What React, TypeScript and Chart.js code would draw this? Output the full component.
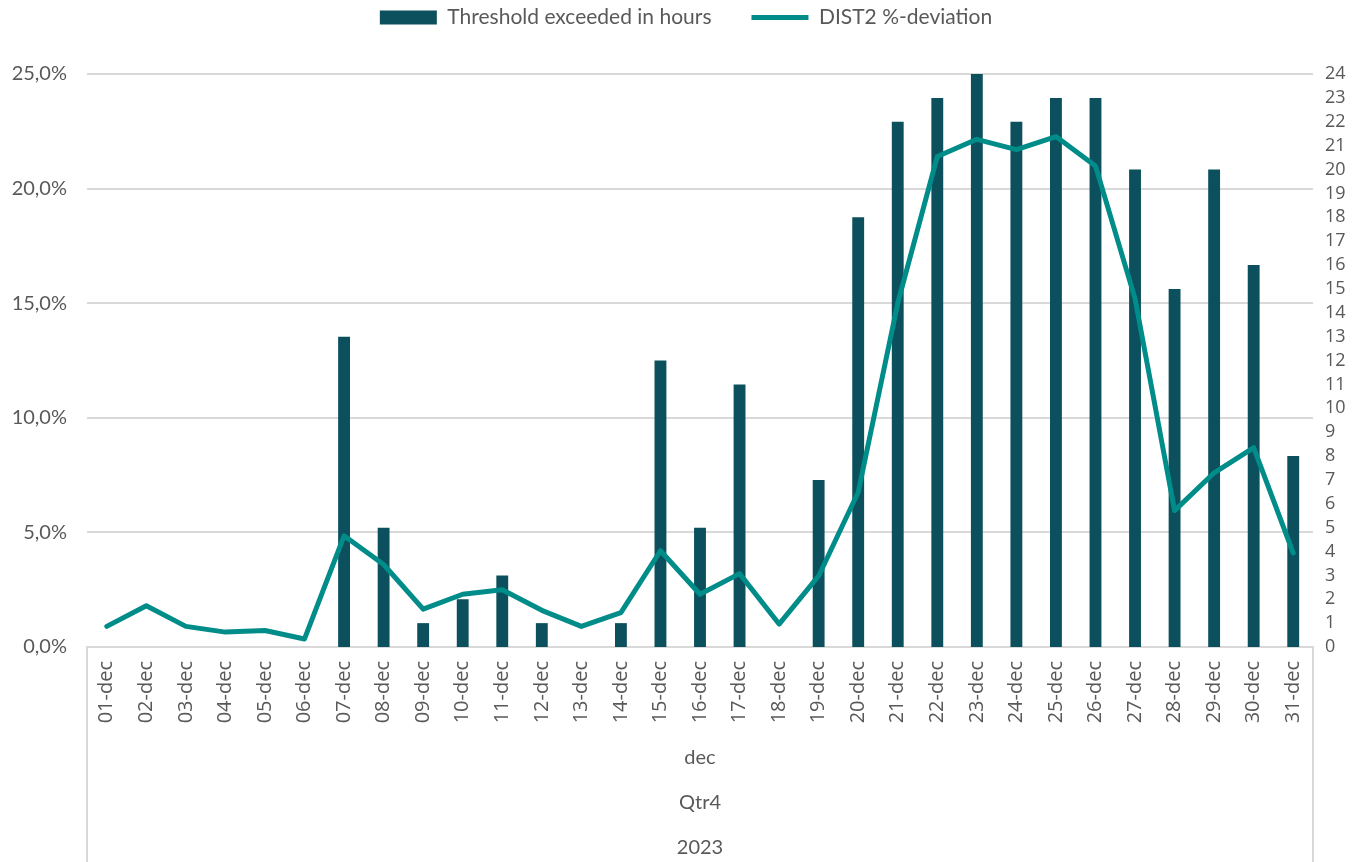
import React, { useEffect, useRef } from "react";
import { Chart, registerables } from "chart.js";

Chart.register(...registerables);

const categories = [
  "01-dec", "02-dec", "03-dec", "04-dec", "05-dec", "06-dec", "07-dec", "08-dec",
  "09-dec", "10-dec", "11-dec", "12-dec", "13-dec", "14-dec", "15-dec", "16-dec",
  "17-dec", "18-dec", "19-dec", "20-dec", "21-dec", "22-dec", "23-dec", "24-dec",
  "25-dec", "26-dec", "27-dec", "28-dec", "29-dec", "30-dec", "31-dec",
];

const thresholdHours = [
  0, 0, 0, 0, 0, 0, 13, 5, 1, 2, 3, 1, 0, 1, 12, 5,
  11, 0, 7, 18, 22, 23, 24, 22, 23, 23, 20, 15, 20, 16, 8,
];

const dist2Deviation = [
  0.9, 1.8, 0.9, 0.65, 0.72, 0.35, 4.85, 3.6, 1.65, 2.3, 2.5, 1.6, 0.9, 1.5, 4.2, 2.3,
  3.2, 1.0, 3.1, 6.75, 15.0, 21.4, 22.15, 21.7, 22.27, 20.99, 15.2, 5.95, 7.6, 8.7, 4.1,
];

const groupLabels = ["dec", "Qtr4", "2023"];

const BAR_COLOR = "#0B505C";
const LINE_COLOR = "#008C88";
const TEXT_COLOR = "#595959";
const GRID_COLOR = "#D9D9D9";

const LEGEND_SHIFT = 33;

const multiLevelPlugin = {
  id: "multiLevel",
  afterDraw(chart: any) {
    const { ctx, chartArea } = chart;
    const bottom = chart.height;
    ctx.save();
    ctx.strokeStyle = GRID_COLOR;
    ctx.lineWidth = 2;
    ctx.beginPath();
    ctx.moveTo(chartArea.left, chartArea.bottom);
    ctx.lineTo(chartArea.left, bottom);
    ctx.moveTo(chartArea.right, chartArea.bottom);
    ctx.lineTo(chartArea.right, bottom);
    ctx.stroke();
    ctx.fillStyle = TEXT_COLOR;
    ctx.font = "20px Lato";
    ctx.textAlign = "center";
    ctx.textBaseline = "middle";
    const cx = (chartArea.left + chartArea.right) / 2;
    groupLabels.forEach((t, i) => {
      ctx.fillText(t, cx, chartArea.bottom + 111 + i * 45);
    });
    ctx.restore();
  },
};

const legendHeightPlugin = {
  id: "legendHeight",
  beforeInit(chart: any) {
    const legend = chart.legend;
    if (!legend) return;
    const origFit = legend.fit;
    legend.fit = function () {
      origFit.call(this);
      this.height = 74 + LEGEND_SHIFT;
    };
  },
};

export default function App() {
  const canvasRef = useRef<HTMLCanvasElement | null>(null);

  useEffect(() => {
    document.body.style.margin = "0";
    const canvas = canvasRef.current;
    if (!canvas) return;
    const chart = new Chart(canvas, {
      type: "bar",
      data: {
        labels: categories,
        datasets: [
          {
            type: "bar",
            label: "Threshold exceeded in hours",
            data: thresholdHours,
            backgroundColor: BAR_COLOR,
            borderWidth: 0,
            yAxisID: "yRight",
            barPercentage: 0.3,
            categoryPercentage: 1,
            pointStyle: "rect",
            order: 2,
          } as any,
          {
            type: "line",
            label: "DIST2 %-deviation",
            data: dist2Deviation,
            borderColor: LINE_COLOR,
            backgroundColor: LINE_COLOR,
            borderWidth: 5,
            borderCapStyle: "round",
            borderJoinStyle: "round",
            pointRadius: 0,
            pointStyle: "line",
            tension: 0,
            yAxisID: "yLeft",
            order: 1,
          } as any,
        ],
      },
      options: {
        responsive: false,
        animation: false,
        layout: { padding: { top: -LEGEND_SHIFT, left: 0, right: 0, bottom: 0 } },
        plugins: {
          tooltip: { enabled: false },
          legend: {
            position: "top",
            labels: {
              usePointStyle: true,
              pointStyleWidth: 57,
              boxWidth: 57,
              boxHeight: 14,
              padding: 40,
              color: TEXT_COLOR,
              font: { family: "Lato", size: 21 },
              sort: (a: any, b: any) => a.datasetIndex - b.datasetIndex,
            },
          },
        },
        scales: {
          x: {
            type: "category",
            grid: { display: false, drawTicks: false },
            border: { display: true, color: GRID_COLOR, width: 2 },
            ticks: {
              autoSkip: false,
              maxRotation: 90,
              minRotation: 90,
              padding: 14,
              color: TEXT_COLOR,
              font: { family: "Open Sans", size: 20 },
            },
            afterFit(scale: any) {
              scale.height = 215;
            },
          },
          yLeft: {
            type: "linear",
            position: "left",
            min: 0,
            max: 25,
            ticks: {
              stepSize: 5,
              padding: 20,
              color: TEXT_COLOR,
              font: { family: "Lato", size: 20 },
              callback: (v: any) => Number(v).toFixed(1).replace(".", ",") + "%",
            },
            grid: { color: GRID_COLOR, lineWidth: 2, drawTicks: false },
            border: { display: false },
            afterFit(scale: any) {
              scale.width = 87;
            },
          },
          yRight: {
            type: "linear",
            position: "right",
            min: 0,
            max: 24,
            ticks: {
              stepSize: 1,
              padding: 12,
              autoSkip: false,
              color: TEXT_COLOR,
              font: { family: "Open Sans", size: 18 },
            },
            grid: { display: false, drawTicks: false },
            border: { display: false },
            afterFit(scale: any) {
              scale.width = 59;
            },
          },
        },
      },
      plugins: [legendHeightPlugin, multiLevelPlugin],
    });
    return () => chart.destroy();
  }, []);

  return (
    <div style={{ width: 1372, height: 862 }}>
      <canvas ref={canvasRef} width={1372} height={862} style={{ display: "block" }} />
    </div>
  );
}
